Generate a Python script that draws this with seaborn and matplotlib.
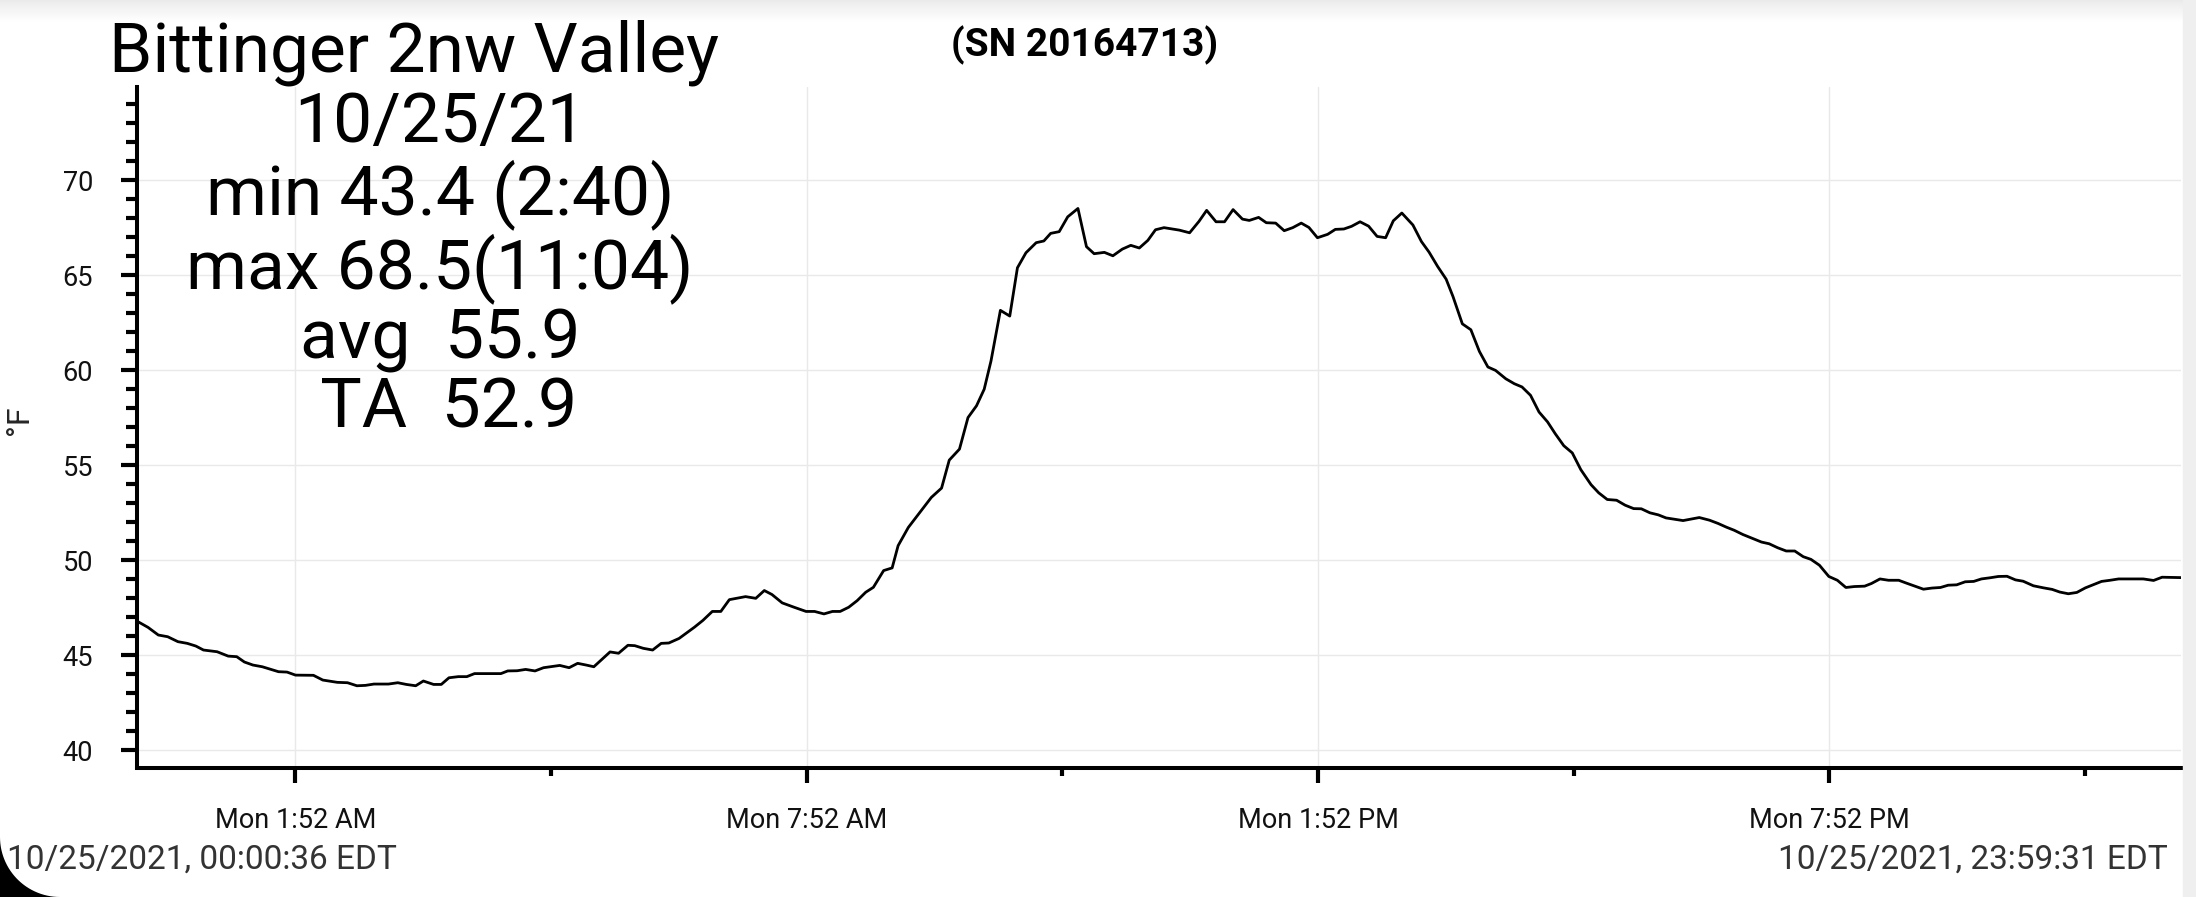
import numpy as np
import pandas as pd
import matplotlib
matplotlib.use("Agg")
import matplotlib.pyplot as plt
from matplotlib.patches import Rectangle, PathPatch
from matplotlib.path import Path
from matplotlib.ticker import MultipleLocator
import seaborn as sns

# hours since midnight
hours = [
    0.01, 0.14, 0.26, 0.37, 0.49, 0.60, 0.70, 0.79, 0.95, 1.08, 1.18, 1.27, 1.37, 1.48,
    1.67, 1.77, 1.87, 2.08, 2.19, 2.36, 2.48, 2.59, 2.69, 2.79, 2.96, 3.07, 3.17, 3.28,
    3.37, 3.49, 3.58, 3.67, 3.78, 3.88, 3.97, 4.28, 4.36, 4.47, 4.57, 4.68, 4.78, 4.97,
    5.08, 5.18, 5.28, 5.37, 5.56, 5.66, 5.77, 5.85, 5.95, 6.06, 6.16, 6.25, 6.37,
    6.55, 6.65, 6.76, 6.86, 6.96, 7.15, 7.27, 7.37, 7.46, 7.58, 7.72, 7.86, 7.96, 8.07,
    8.17, 8.26, 8.36, 8.46, 8.56, 8.65, 8.77, 8.87, 8.94, 9.06, 9.18, 9.33, 9.45, 9.54,
    9.66, 9.76, 9.86, 9.95, 10.03, 10.14, 10.25, 10.34, 10.44, 10.56, 10.65, 10.73,
    10.83, 10.93, 11.05, 11.15, 11.24,
    11.36, 11.46, 11.57, 11.67, 11.77, 11.87, 11.96, 12.06, 12.24, 12.36, 12.47, 12.56,
    12.67, 12.77, 12.87, 12.98, 13.06, 13.17, 13.26, 13.37, 13.47, 13.57, 13.67, 13.76,
    13.86, 13.98, 14.07, 14.17, 14.26, 14.36, 14.46, 14.56, 14.66, 14.75, 14.85,
    14.98, 15.08, 15.17, 15.27, 15.37, 15.45, 15.56, 15.66, 15.76, 15.86, 15.95, 16.07,
    16.17, 16.26, 16.36, 16.46, 16.56, 16.65, 16.75, 16.85, 16.95, 17.07, 17.16, 17.26,
    17.37, 17.47, 17.57, 17.66, 17.76, 17.86, 17.95, 18.15, 18.34, 18.46, 18.56, 18.66,
    18.75, 18.85, 18.95,
    19.07, 19.16, 19.26, 19.36, 19.46, 19.56, 19.65, 19.75, 19.86, 19.96, 20.06, 20.16,
    20.28, 20.36, 20.46, 20.56, 20.68, 20.77, 20.87, 20.97, 21.07, 21.17, 21.26, 21.36,
    21.46, 21.56, 21.65, 21.75, 21.85, 21.95, 22.05, 22.14, 22.26, 22.38, 22.48, 22.57,
    22.67, 22.77, 22.87, 22.96, 23.06, 23.16, 23.26, 23.55, 23.67, 23.77, 23.99,
]
temps_f = [
    46.80, 46.47, 46.07, 45.98, 45.72, 45.63, 45.49, 45.28, 45.19, 44.96, 44.93, 44.65, 44.49, 44.40,
    44.14, 44.12, 43.96, 43.95, 43.70, 43.58, 43.56, 43.40, 43.42, 43.49, 43.49, 43.56, 43.47, 43.40,
    43.65, 43.47, 43.47, 43.82, 43.88, 43.88, 44.04, 44.04, 44.18, 44.19, 44.26, 44.18, 44.35, 44.47,
    44.35, 44.58, 44.49, 44.40, 45.18, 45.11, 45.53, 45.51, 45.37, 45.28, 45.63, 45.65, 45.89,
    46.48, 46.84, 47.31, 47.31, 47.93, 48.09, 48.00, 48.41, 48.20, 47.76, 47.53, 47.31, 47.31, 47.18,
    47.31, 47.31, 47.53, 47.88, 48.32, 48.58, 49.46, 49.60, 50.77, 51.73, 52.43, 53.31, 53.80, 55.27,
    55.85, 57.51, 58.13, 59.00, 60.49, 63.15, 62.85, 65.39, 66.18, 66.71, 66.80, 67.20,
    67.29, 68.07, 68.51, 66.50, 66.13,
    66.20, 66.02, 66.37, 66.57, 66.43, 66.83, 67.39, 67.50, 67.37, 67.23, 67.83, 68.41,
    67.81, 67.81, 68.45, 67.95, 67.88, 68.04, 67.76, 67.74, 67.34, 67.50, 67.74, 67.51,
    66.97, 67.15, 67.41, 67.43, 67.57, 67.81, 67.58, 67.04, 66.97, 67.86, 68.27,
    67.64, 66.77, 66.21, 65.46, 64.79, 63.88, 62.44, 62.13, 60.99, 60.17, 59.99, 59.55,
    59.29, 59.12, 58.68, 57.80, 57.28, 56.66, 56.03, 55.65, 54.77, 53.98, 53.55, 53.20,
    53.16, 52.90, 52.72, 52.71, 52.50, 52.39, 52.23, 52.09, 52.25, 52.11, 51.94, 51.74,
    51.58, 51.36, 51.18,
    50.96, 50.87, 50.66, 50.49, 50.49, 50.19, 50.05, 49.74, 49.15, 48.95, 48.57, 48.62,
    48.64, 48.78, 49.02, 48.95, 48.95, 48.80, 48.64, 48.48, 48.54, 48.57, 48.69, 48.71,
    48.87, 48.89, 49.02, 49.08, 49.15, 49.16, 48.97, 48.90, 48.66, 48.55, 48.47, 48.33,
    48.24, 48.31, 48.55, 48.71, 48.89, 48.95, 49.02, 49.02, 48.94, 49.11, 49.09,
]

x_tick_hours = [1 + 52 / 60, 7 + 52 / 60, 13 + 52 / 60, 19 + 52 / 60]
x_tick_labels = ["Mon 1:52 AM", "Mon 7:52 AM", "Mon 1:52 PM", "Mon 7:52 PM"]
x_minor_hours = [4 + 52 / 60, 10 + 52 / 60, 16 + 52 / 60, 22 + 52 / 60]
y_ticks = [40, 45, 50, 55, 60, 65, 70]

title = "Bittinger 2nw Valley"
stats_lines = ["10/25/21", "min 43.4 (2:40)", "max 68.5(11:04)", "avg  55.9", " TA  52.9"]
serial = "(SN 20164713)"
start_stamp = "10/25/2021, 00:00:36 EDT"
end_stamp = "10/25/2021, 23:59:31 EDT"
t_start = 36 / 3600
t_end = 23 + 59 / 60 + 31 / 3600

sns.set_theme(style="white")
plt.rcParams['font.family'] = ['Roboto', 'DejaVu Sans']

W, H = 2196, 897
fig = plt.figure(figsize=(W / 100, H / 100), dpi=100)
ax = fig.add_axes([137 / W, 1 - 767.5 / H, (2181 - 137) / W, (767.5 - 87) / H])

df = pd.DataFrame({"hour": hours, "temp": temps_f})
sns.lineplot(data=df, x="hour", y="temp", color="black", linewidth=2.0, ax=ax)

ax.set_xlim(t_start, t_end)
ax.set_ylim(39.1, 74.9)
ax.set_xlabel("")
ax.set_ylabel("")

ax.set_xticks(x_tick_hours, x_tick_labels)
ax.set_xticks(x_minor_hours, minor=True)
ax.set_yticks(y_ticks)
ax.yaxis.set_minor_locator(MultipleLocator(1))

ax.tick_params(which='both', bottom=True, left=True, direction='out', color='black', width=3)
ax.tick_params(axis='both', which='major', labelsize=19.5, labelcolor='#111111')
ax.tick_params(axis='x', which='major', length=11, pad=17.5)
ax.tick_params(axis='x', which='minor', length=6)
ax.tick_params(axis='y', which='major', length=11.5, pad=20)
ax.tick_params(axis='y', which='minor', length=8)

ax.grid(True, which='major', color='#e9e9e9', linewidth=1)
ax.grid(False, which='minor')
for side in ['top', 'right']:
    ax.spines[side].set_visible(False)
for side in ['left', 'bottom']:
    ax.spines[side].set_color('black')
    ax.spines[side].set_linewidth(2.9)

fig.text(414 / W, 1 - 53 / H, title, ha='center', va='center', fontsize=50, color='black')
fig.text(440 / W, 1 - 266 / H, "\n".join(stats_lines), ha='center', va='center',
         multialignment='center', fontsize=50, linespacing=1.05, color='black')
fig.text(1085 / W, 1 - 45 / H, serial, ha='center', va='center', fontsize=28,
         fontweight='bold', color='black')
fig.text(20 / W, 1 - 420 / H, "°F", rotation=90, ha='center', va='center', fontsize=23)
fig.text(7 / W, 1 - 860 / H, start_stamp, ha='left', va='center', fontsize=24, color='#333333')
fig.text(2168 / W, 1 - 860 / H, end_stamp, ha='right', va='center', fontsize=24, color='#333333')

# screenshot edges: top shadow, right strip, rounded bottom-left corner
shade = fig.add_axes([0, 1 - 22 / H, 1, 22 / H])
shade.imshow(np.linspace(0.16, 0, 50).reshape(-1, 1), aspect='auto', cmap='Greys',
             vmin=0, vmax=1, interpolation='bilinear')
shade.axis('off')

fig.patches.append(Rectangle((2183 / W, 0), 1 - 2183 / W, 1, transform=fig.transFigure,
                             color='#efefef', zorder=0))

r = 60
ang = np.linspace(-np.pi / 2, -np.pi, 30)
arc_x = r + r * np.cos(ang)
arc_y = (H - r) - r * np.sin(ang)
verts = [(0, H - r), (0, H), (r, H)] + list(zip(arc_x, arc_y))
verts = [(vx / W, 1 - vy / H) for vx, vy in verts] + [(0, 1 - (H - r) / H)]
codes = [Path.MOVETO] + [Path.LINETO] * (len(verts) - 2) + [Path.CLOSEPOLY]
fig.patches.append(PathPatch(Path(verts, codes), transform=fig.transFigure,
                             facecolor='black', edgecolor='none', zorder=5))

fig.savefig("out.png", dpi=100)
